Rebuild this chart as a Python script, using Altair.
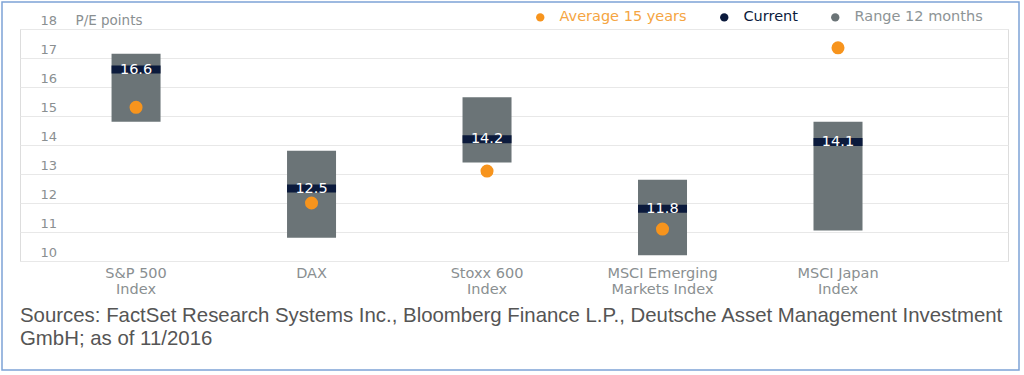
import altair as alt
import pandas as pd

categories = ["S&P 500|Index", "DAX", "Stoxx 600|Index", "MSCI Emerging|Markets Index", "MSCI Japan|Index"]
range_low = [14.8, 10.8, 13.4, 10.2, 11.05]
range_high = [17.15, 13.8, 15.65, 12.8, 14.8]
current = [16.6, 12.5, 14.2, 11.8, 14.1]
avg15 = [15.3, 12.0, 13.1, 11.1, 17.35]
y_ticks = [10, 11, 12, 13, 14, 15, 16, 17, 18]
legend_labels = ["Average 15 years", "Current", "Range 12 months"]
legend_colors = ["#f7941d", "#0b1a3c", "#6b7477"]
source_lines = [
    "Sources: FactSet Research Systems Inc., Bloomberg Finance L.P., Deutsche Asset Management Investment",
    "GmbH; as of 11/2016",
]

ORANGE, NAVY, GRAY = legend_colors
FONT = "DejaVu Sans"
SRC_FONT = "Liberation Sans"

df = pd.DataFrame({
    "cat": categories, "low": range_low, "high": range_high,
    "cur": current, "avg": avg15,
})

x_axis = alt.Axis(domain=False, ticks=False, grid=False, labelAngle=0,
                  labelExpr="split(datum.label, '|')", labelColor="#8a8f91",
                  labelFontSize=14.5, labelPadding=5, labelLineHeight=16,
                  labelFont=FONT)
x = alt.X("cat:N", sort=categories, title=None,
          scale=alt.Scale(paddingInner=0, paddingOuter=0.315, align=0.256),
          axis=x_axis)
yscale = alt.Scale(domain=[10, 18], nice=False, zero=False)
y_axis = alt.Axis(values=y_ticks, domain=False, ticks=False, tickSize=0,
                  gridColor="#e8e8e8", gridWidth=1.2, labelOverlap=False,
                  labelAlign="left", labelPadding=-20, labelOffset=-5,
                  labelBaseline="alphabetic", labelColor="#8a8f91",
                  labelFontSize=13, labelFont=FONT,
                  title="P/E points", titleAngle=0, titleX=55, titleY=-5,
                  titleAlign="left", titleBaseline="alphabetic",
                  titleFontWeight="normal", titleColor="#8a8f91",
                  titleFontSize=13.5, titleFont=FONT)

base = alt.Chart(df)

bars = base.mark_bar(color=GRAY, size=49).encode(
    x=x,
    y=alt.Y("low:Q", scale=yscale, axis=y_axis),
    y2="high:Q",
)

cur_tick = base.mark_tick(color=NAVY, thickness=8, size=49, opacity=1).encode(
    x=x, y=alt.Y("cur:Q", scale=yscale, axis=y_axis))

cur_text = base.mark_text(color="white", fontSize=14.5, font=FONT, baseline="middle").encode(
    x=x, y=alt.Y("cur:Q", scale=yscale, axis=y_axis),
    text=alt.Text("cur:Q", format=".1f"))

avg_pts = base.mark_circle(color=ORANGE, size=170, opacity=1).encode(
    x=x, y=alt.Y("avg:Q", scale=yscale, axis=y_axis))

leg_df = pd.DataFrame({"series": legend_labels})
legend_layer = alt.Chart(leg_df).mark_point(filled=True, size=0, opacity=0).encode(
    color=alt.Color("series:N", sort=legend_labels,
                    scale=alt.Scale(domain=legend_labels, range=legend_colors),
                    legend=alt.Legend(
                        title=None, orient="none", direction="horizontal",
                        legendX=513, legendY=-19, symbolType="circle",
                        symbolSize=70, symbolOpacity=1, symbolStrokeWidth=0,
                        labelFontSize=14.5, labelFont=FONT, columnPadding=30,
                        labelOffset=12,
                        labelColor={"expr": "datum.label == 'Current' ? '#0b1a3c' : datum.label == 'Average 15 years' ? '#f5a542' : '#8d9496'"},
                    )),
)

frame = alt.Chart(pd.DataFrame({"a": [0]})).mark_rect(
    fillOpacity=0, stroke="#7ea3d6", strokeWidth=1.5).encode(
    x=alt.value(-18), x2=alt.value(999), y=alt.value(-27), y2=alt.value(341))

source = alt.Chart(pd.DataFrame({"a": [0]})).mark_text(
    align="left", baseline="top", font=SRC_FONT, fontSize=20.4, color="#555555",
    lineHeight=23).encode(
    x=alt.value(0), y=alt.value(277), text=alt.value(source_lines))

chart = alt.layer(frame, bars, cur_tick, cur_text, avg_pts, legend_layer, source).properties(
    width=988, height=232,
    padding={"left": 20, "top": 29, "right": 16, "bottom": 114},
    autosize=alt.AutoSizeParams(type="none"),
).configure_view(stroke=None).configure(background="white")

chart.save("out.html", embed_options={"renderer": "svg", "actions": False})
